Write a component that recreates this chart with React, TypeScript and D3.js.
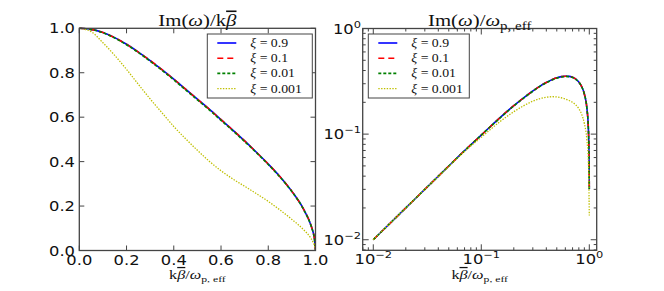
import React from 'react';
import * as d3 from 'd3';

// k beta / omega_p,eff grid for the left panel
const kGrid = [0, 0.05, 0.1, 0.15, 0.2, 0.25, 0.3, 0.35, 0.4, 0.45, 0.5, 0.55, 0.6, 0.65, 0.7, 0.75, 0.8, 0.85, 0.9, 0.95, 0.98, 0.99, 0.995, 1.0];

// Im(w)/k beta
const imXi09 = [1.0, 0.995, 0.981, 0.958, 0.928, 0.893, 0.855, 0.814, 0.771, 0.726, 0.681, 0.636, 0.589, 0.542, 0.493, 0.442, 0.389, 0.332, 0.266, 0.185, 0.116, 0.082, 0.058, 0.0];
const imXi01 = [1.0, 0.995, 0.981, 0.958, 0.928, 0.893, 0.855, 0.814, 0.771, 0.726, 0.681, 0.636, 0.589, 0.542, 0.493, 0.442, 0.389, 0.332, 0.266, 0.185, 0.116, 0.082, 0.058, 0.0];
const imXi001 = [1.0, 0.995, 0.980, 0.956, 0.926, 0.891, 0.852, 0.811, 0.768, 0.723, 0.678, 0.633, 0.586, 0.539, 0.490, 0.440, 0.387, 0.330, 0.265, 0.184, 0.115, 0.081, 0.057, 0.0];
const imXi0001 = [1.0, 0.985, 0.935, 0.878, 0.815, 0.748, 0.682, 0.62, 0.558, 0.503, 0.451, 0.402, 0.359, 0.322, 0.289, 0.256, 0.221, 0.182, 0.14, 0.093, 0.056, 0.037, 0.025, 0.0];

// log grid for the right panel
const logGrid = [0.01, 0.02, 0.03, 0.05, 0.07, 0.1, 0.15, 0.2, 0.25, 0.3, 0.35, 0.4, 0.45, 0.5, 0.55, 0.6, 0.65, 0.7, 0.75, 0.8, 0.85, 0.9, 0.95, 0.98, 0.99, 0.995, 1.0];

// Im(w)/omega_p,eff
const grXi09 = [0.01, 0.02, 0.03, 0.0499, 0.0697, 0.098, 0.144, 0.186, 0.223, 0.256, 0.285, 0.308, 0.327, 0.341, 0.35, 0.353, 0.352, 0.345, 0.332, 0.311, 0.282, 0.24, 0.176, 0.114, 0.081, 0.057, 0.03];
const grXi01 = [0.01, 0.02, 0.03, 0.0499, 0.0697, 0.098, 0.144, 0.186, 0.223, 0.256, 0.285, 0.308, 0.327, 0.341, 0.35, 0.353, 0.352, 0.345, 0.332, 0.311, 0.282, 0.24, 0.176, 0.114, 0.081, 0.057, 0.03];
const grXi001 = [0.01, 0.02, 0.03, 0.0499, 0.0696, 0.098, 0.143, 0.185, 0.222, 0.255, 0.284, 0.307, 0.325, 0.339, 0.348, 0.352, 0.35, 0.343, 0.33, 0.31, 0.281, 0.239, 0.175, 0.113, 0.08, 0.056, 0.03];
const grXi0001 = [0.01, 0.02, 0.03, 0.0493, 0.0685, 0.0935, 0.132, 0.163, 0.187, 0.205, 0.217, 0.223, 0.226, 0.225, 0.221, 0.215, 0.208, 0.2, 0.189, 0.174, 0.154, 0.126, 0.088, 0.055, 0.037, 0.025, 0.017];

const xiLabels = ['0.9', '0.1', '0.01', '0.001'];
const linTicks = [0, 0.2, 0.4, 0.6, 0.8, 1.0];
const logMajor = [0.01, 0.1, 1];
const logExp = ['−2', '−1', '0'];

const leftSeries = [imXi09, imXi01, imXi001, imXi0001];
const rightSeries = [grXi09, grXi01, grXi001, grXi0001];

const colors = ['#0000ff', '#ff0000', '#008000', '#bfbf00'];
const dashes = [undefined, '6,4', '3,2', '1.4,1.4'];
const widths = [1.6, 1.6, 1.6, 1.3];

const frame = '#444';
const tickFont = '"DejaVu Sans", sans-serif';
const mathFont = '"Liberation Serif", "DejaVu Serif", serif';

const Stretch = ({ x, y, sx = 1.2, children }: any) => (
  <g transform={`translate(${x},${y}) scale(${sx},1)`}>{children}</g>
);

const Legend = ({ x0, y0, w }: { x0: number; y0: number; w: number }) => (
  <g>
    <rect x={x0} y={y0} width={w} height={64} fill="white" stroke={frame} strokeWidth={1} />
    {xiLabels.map((lab, i) => {
      const yy = y0 + 9 + i * 15.2;
      return (
        <g key={lab}>
          <line x1={x0 + 10} x2={x0 + 29} y1={yy} y2={yy} stroke={colors[i]} strokeWidth={widths[i]} strokeDasharray={dashes[i]} />
          <Stretch x={x0 + 43} y={yy + 4} sx={1.2}>
            <text fontFamily={mathFont} fontSize={11.5} fill="#111">
              <tspan fontStyle="italic">ξ</tspan> = {lab}
            </text>
          </Stretch>
        </g>
      );
    })}
  </g>
);

// k beta-bar / omega_p,eff axis label
const XLabel = ({ x }: { x: number }) => (
  <Stretch x={x} y={279} sx={1.3}>
    <text textAnchor="middle" fontFamily={mathFont} fontSize={12.5} fill="#111">
      k<tspan fontStyle="italic" style={{ textDecoration: 'overline' }}>β</tspan>/<tspan fontStyle="italic">ω</tspan>
      <tspan dy={3} fontSize={9}>p, eff</tspan>
    </text>
  </Stretch>
);

const App = () => {
  const W = 664;
  const H = 291;

  // left panel scales
  const xL = d3.scaleLinear().domain([0, 1]).range([79.3, 315.5]);
  const yL = d3.scaleLinear().domain([0, 1]).range([250.5, 28.3]);

  // right panel scales
  const xR = d3.scaleLog().domain([10 ** -2.098, 10 ** 0.0685]).range([362.7, 596.7]);
  const yR = d3.scaleLog().domain([10 ** -2.1, 1]).range([250.3, 28.5]);

  const lineL = d3
    .line<number>()
    .x((d, i) => xL(kGrid[i]))
    .y((d) => yL(d))
    .curve(d3.curveMonotoneX);

  const lineR = d3
    .line<number>()
    .x((d, i) => xR(logGrid[i]))
    .y((d) => yR(d))
    .curve(d3.curveMonotoneX);

  const isMajor = (t: number) => Math.abs(Math.log10(t) - Math.round(Math.log10(t))) < 1e-6;
  const xRticks = xR.ticks();
  const yRticks = yR.ticks();

  const [l0, l1] = xL.range();
  const [lb, lt] = yL.range();
  const [r0, r1] = xR.range();
  const [rb, rt] = yR.range();

  return (
    <div style={{ position: 'fixed', left: 0, top: 0 }}>
      <svg width={W} height={H} style={{ display: 'block', background: 'white' }}>
        <defs>
          <clipPath id="clipL">
            <rect x={l0} y={lt - 2} width={l1 - l0} height={lb - lt + 4} />
          </clipPath>
          <clipPath id="clipR">
            <rect x={r0} y={rt} width={r1 - r0} height={rb - rt} />
          </clipPath>
        </defs>

        {/* ---------- left panel ---------- */}
        <g clipPath="url(#clipL)">
          {leftSeries.map((s, i) => (
            <path key={i} d={lineL(s) || ''} fill="none" stroke={colors[i]} strokeWidth={widths[i]} strokeDasharray={dashes[i]} />
          ))}
        </g>
        {linTicks.map((t) => (
          <g key={'lx' + t} stroke={frame} strokeWidth={1}>
            <line x1={xL(t)} x2={xL(t)} y1={lb} y2={lb - 5} />
            <line x1={xL(t)} x2={xL(t)} y1={lt} y2={lt + 5} />
            <line x1={l0} x2={l0 + 5} y1={yL(t)} y2={yL(t)} />
            <line x1={l1} x2={l1 - 5} y1={yL(t)} y2={yL(t)} />
          </g>
        ))}
        <rect x={l0} y={lt} width={l1 - l0} height={lb - lt} fill="none" stroke={frame} strokeWidth={1.3} />
        {linTicks.map((t) => (
          <g key={'lxl' + t}>
            <Stretch x={xL(t)} y={265}>
              <text textAnchor="middle" fontFamily={tickFont} fontSize={13.6} fill="#111">{t.toFixed(1)}</text>
            </Stretch>
            <Stretch x={75} y={yL(t) + 5}>
              <text textAnchor="end" fontFamily={tickFont} fontSize={13.6} fill="#111">{t.toFixed(1)}</text>
            </Stretch>
          </g>
        ))}
        <Legend x0={207.3} y0={34} w={105} />
        <Stretch x={(l0 + l1) / 2} y={26} sx={1.3}>
          <text textAnchor="middle" fontFamily={mathFont} fontSize={16} fill="#111">
            Im(<tspan fontStyle="italic">ω</tspan>)/k<tspan fontStyle="italic" style={{ textDecoration: 'overline' }}>β</tspan>
          </text>
        </Stretch>
        <XLabel x={(l0 + l1) / 2} />

        {/* ---------- right panel ---------- */}
        <g clipPath="url(#clipR)">
          {rightSeries.map((s, i) => (
            <path key={i} d={lineR(s) || ''} fill="none" stroke={colors[i]} strokeWidth={widths[i]} strokeDasharray={dashes[i]} />
          ))}
        </g>
        {xRticks.map((t, i) => {
          const len = isMajor(t) ? 6 : 3;
          return (
            <g key={'rx' + i} stroke={frame} strokeWidth={1}>
              <line x1={xR(t)} x2={xR(t)} y1={rb} y2={rb - len} />
              <line x1={xR(t)} x2={xR(t)} y1={rt} y2={rt + len} />
            </g>
          );
        })}
        {yRticks.map((t, i) => {
          const len = isMajor(t) ? 6 : 3;
          return (
            <g key={'ry' + i} stroke={frame} strokeWidth={1}>
              <line x1={r0} x2={r0 + len} y1={yR(t)} y2={yR(t)} />
              <line x1={r1} x2={r1 - len} y1={yR(t)} y2={yR(t)} />
            </g>
          );
        })}
        <rect x={r0} y={rt} width={r1 - r0} height={rb - rt} fill="none" stroke={frame} strokeWidth={1.3} />
        {logMajor.map((t, i) => (
          <g key={'rl' + t}>
            <Stretch x={xR(t)} y={264}>
              <text textAnchor="middle" fontFamily={tickFont} fontSize={13.6} fill="#111">
                10<tspan dy={-6} fontSize={9.5}>{logExp[i]}</tspan>
              </text>
            </Stretch>
            <Stretch x={361} y={yR(t) + 5}>
              <text textAnchor="end" fontFamily={tickFont} fontSize={13.6} fill="#111">
                10<tspan dy={-6} fontSize={9.5}>{logExp[i]}</tspan>
              </text>
            </Stretch>
          </g>
        ))}
        <Legend x0={368.3} y0={34} w={101} />
        <Stretch x={(r0 + r1) / 2} y={26} sx={1.3}>
          <text textAnchor="middle" fontFamily={mathFont} fontSize={16} fill="#111">
            Im(<tspan fontStyle="italic">ω</tspan>)/<tspan fontStyle="italic">ω</tspan>
            <tspan dy={3.5} fontSize={11.5}>p, eff</tspan>
          </text>
        </Stretch>
        <XLabel x={(r0 + r1) / 2} />
      </svg>
    </div>
  );
};

export default App;
